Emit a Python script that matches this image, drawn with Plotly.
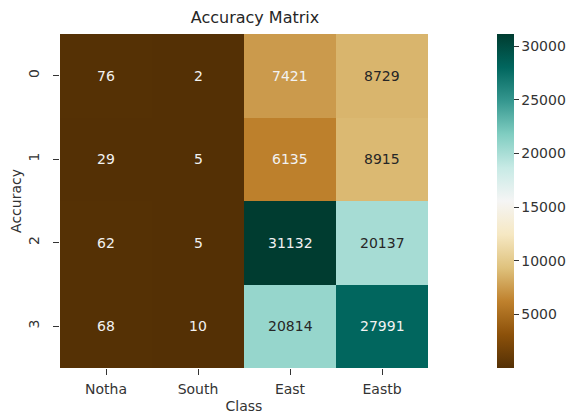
import re
import plotly.graph_objects as go
from plotly.colors import sample_colorscale

classes = ["Notha", "South", "East", "Eastb"]
rows = ["0", "1", "2", "3"]
row0 = [76, 2, 7421, 8729]
row1 = [29, 5, 6135, 8915]
row2 = [62, 5, 31132, 20137]
row3 = [68, 10, 20814, 27991]
values = [row0, row1, row2, row3]
cbar_ticks = [5000, 10000, 15000, 20000, 25000, 30000]

brbg = ["#543005", "#8c510a", "#bf812d", "#dfc27d", "#f6e8c3", "#f5f5f5",
        "#c7eae5", "#80cdc1", "#35978f", "#01665e", "#003c30"]
cscale = [[i / (len(brbg) - 1), c] for i, c in enumerate(brbg)]

vmin = min(min(r) for r in values)
vmax = max(max(r) for r in values)

W, H = 576, 414
L, R, T, B = 60, 0, 34, 46
pw = W - L - R
ph = H - T - B
heat_right = 428
cb_left = 497


def lum(c):
    nums = [float(v) for v in re.findall(r"[\d.]+", c)[:3]]
    out = []
    for v in nums:
        v = v / 255
        out.append(v / 12.92 if v <= 0.03928 else ((v + 0.055) / 1.055) ** 2.4)
    return 0.2126 * out[0] + 0.7152 * out[1] + 0.0722 * out[2]


fig = go.Figure()
fig.add_trace(go.Heatmap(
    z=values, x=classes, y=rows, colorscale=cscale, zmin=vmin, zmax=vmax,
    showscale=True,
    colorbar=dict(
        x=(cb_left - L) / pw, xanchor="left", xref="paper", y=0.5, yanchor="middle",
        len=1.0, lenmode="fraction", thickness=17, thicknessmode="pixels",
        outlinewidth=0, tickvals=cbar_ticks, ticktext=[str(t) for t in cbar_ticks],
        ticks="outside", ticklen=5, xpad=0, ypad=0,
        tickcolor="#333333", tickfont=dict(family="DejaVu Sans", size=14, color="#333333"),
    ),
    hoverinfo="skip",
))

for i, r in enumerate(values):
    for j, v in enumerate(r):
        col = sample_colorscale(cscale, [(v - vmin) / (vmax - vmin)])[0]
        tc = "#262626" if lum(col) > 0.408 else "#f2f2f2"
        fig.add_annotation(x=classes[j], y=rows[i], text=str(v), showarrow=False,
                           font=dict(family="DejaVu Sans", size=14, color=tc))

fig.update_layout(
    width=W, height=H,
    margin=dict(l=L, r=R, t=T, b=B, autoexpand=False),
    paper_bgcolor="white", plot_bgcolor="white",
    font=dict(family="DejaVu Sans", size=14, color="#333333"),
    title=dict(text="Accuracy Matrix", x=255 / W, xanchor="center",
               y=1 - 17 / H, yanchor="middle",
               font=dict(family="DejaVu Sans", size=16, color="#262626")),
    xaxis=dict(domain=[0, (heat_right - L) / pw],
               title=dict(text="Class", standoff=8, font=dict(size=14)),
               ticks="outside", ticklen=6, tickcolor="#333333", showgrid=False,
               ticklabelstandoff=2,
               zeroline=False, showline=False),
    yaxis=dict(title=dict(text="Accuracy", standoff=1, font=dict(size=14)),
               autorange="reversed", tickangle=-90,
               ticks="outside", ticklen=6, tickcolor="#333333", showgrid=False,
               ticklabelstandoff=8,
               zeroline=False, showline=False),
)

fig.write_html("out.html")
